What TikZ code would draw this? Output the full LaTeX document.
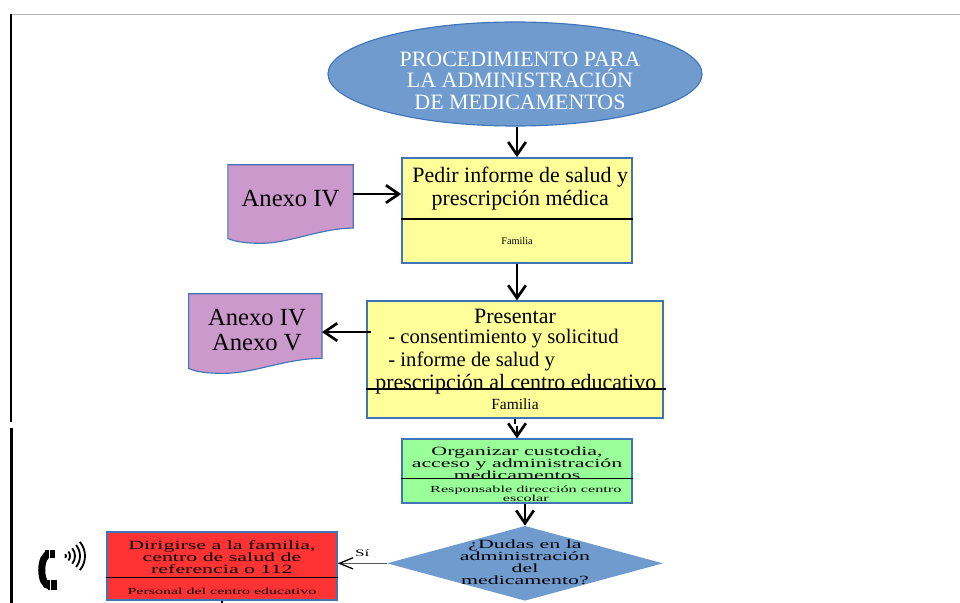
\documentclass[tikz,border=0pt]{standalone}
\usepackage{fontspec}
\setmainfont{Liberation Serif}
\newfontfamily\anchafont[FakeStretch=1.75]{Liberation Serif}
\usetikzlibrary{shapes.geometric, arrows.meta}
\definecolor{azulfill}{HTML}{6F9BCE}
\definecolor{azulline}{HTML}{3F74B8}
\definecolor{amarillo}{HTML}{FFFF99}
\definecolor{verde}{HTML}{99FF99}
\definecolor{rojo}{HTML}{FF3333}
\definecolor{malva}{HTML}{CC99CC}
\tikzstyle{titulo} = [ellipse, minimum width=9.35cm, minimum height=2.6cm, inner sep=0pt, draw=azulline, fill=azulfill, thick]
\tikzstyle{titulotext} = [align=center, inner sep=0pt, text=white, font=\fontsize{15.6}{15.4}\selectfont]
\tikzstyle{process} = [rectangle, inner sep=0pt, draw=azulline, very thick]
\tikzstyle{decision} = [diamond, aspect=3.7, inner sep=0pt, minimum width=6.9cm, minimum height=1.87cm, fill=azulfill, align=center]
\tikzstyle{docbox} = [rectangle, inner sep=0pt, draw=none]
\tikzstyle{docshape} = [draw=azulline, thick, fill=malva]
\tikzstyle{arrow} = [line width=1.4pt, -{Straight Barb[length=3.2mm, width=4.4mm, line width=1.9pt]}]
\tikzstyle{thinarrow} = [gray!70!black, line width=0.6pt, -{Straight Barb[black, length=3.4mm, width=2.8mm, line width=0.9pt]}]
\tikzstyle{divider} = [line width=1.3pt]
\tikzstyle{grande} = [align=center, inner sep=0pt, font=\fontsize{15.6}{16.2}\selectfont]
\tikzstyle{doctext} = [align=center, inner sep=0pt, font=\fontsize{17.5}{17.8}\selectfont]
\tikzstyle{ancho} = [align=center, inner sep=0pt, font=\anchafont\fontsize{8.9}{8.6}\selectfont]
\tikzstyle{pequeno} = [align=center, inner sep=0pt, font=\anchafont\fontsize{6.6}{6.8}\selectfont]

\begin{document}
\begin{tikzpicture}[x=0.025cm, y=-0.025cm]
	\useasboundingbox (0,0) rectangle (960,603);
	% marco de la pagina
	\coordinate (marcoa) at (11,14);
	\coordinate (marcob) at (11,422);
	\coordinate (marcoc) at (11.5,428);
	\coordinate (marcod) at (11.5,603);
	\coordinate (marcoe) at (960,14);
	\draw [gray!60, line width=0.7pt] (marcoa) -- (marcoe);
	\draw [line width=2.1pt] (marcoa) -- (marcob);
	\draw [line width=2pt] (marcoc) -- (marcod);

	\node (title) [titulo] at (515,74) {};
	\node (pedir) [process, fill=amarillo, minimum width=5.75cm, minimum height=2.62cm, below of=title, node distance=3.41cm, xshift=0.05cm] {};
	\node (presentar) [process, fill=amarillo, minimum width=7.4cm, minimum height=2.92cm, below of=pedir, node distance=3.73cm, xshift=-0.05cm] {};
	\node (organizar) [process, fill=verde, minimum width=5.75cm, minimum height=1.6cm, below of=presentar, node distance=2.79cm, xshift=0.05cm] {};
	\node (dudas) [decision, below of=organizar, node distance=2.3cm, xshift=0.2cm] {};
	\node (dirigirse) [process, fill=rojo, minimum width=5.75cm, minimum height=1.7cm, left of=dudas, node distance=7.575cm, yshift=-0.075cm] {};
	\node (anexouno) [docbox, minimum width=3.12cm, minimum height=1.45cm, left of=pedir, node distance=5.66cm, yshift=0.41cm] {};
	\node (anexodos) [docbox, minimum width=3.32cm, minimum height=1.9cm, left of=presentar, node distance=6.49cm, yshift=0.69cm] {};

	% hojas moradas
	\draw [docshape] (anexouno.north west) -- (anexouno.north east) -- ([yshift=-0.12cm]anexouno.south east)
		.. controls ([xshift=-0.8cm,yshift=-0.12cm]anexouno.south east) and ([xshift=-1.6cm,yshift=-0.5cm]anexouno.south east) .. ([xshift=-2.3cm,yshift=-0.5cm]anexouno.south east)
		.. controls ([xshift=0.3cm,yshift=-0.5cm]anexouno.south west) and ([xshift=0.1cm,yshift=-0.42cm]anexouno.south west) .. ([yshift=-0.38cm]anexouno.south west) -- cycle;
	\draw [docshape] (anexodos.north west) -- (anexodos.north east) -- ([yshift=0.3cm]anexodos.south east)
		.. controls ([xshift=-0.9cm,yshift=0.3cm]anexodos.south east) and ([xshift=-1.7cm,yshift=-0.075cm]anexodos.south east) .. ([xshift=-2.45cm,yshift=-0.075cm]anexodos.south east)
		.. controls ([xshift=0.3cm,yshift=-0.075cm]anexodos.south west) and ([xshift=0.1cm,yshift=0cm]anexodos.south west) .. ([yshift=0.05cm]anexodos.south west) -- cycle;
	\node (anexounotxt) [doctext] at ([yshift=-0.12cm]anexouno) {Anexo IV};
	\node (anexodostxt) [doctext] at ([xshift=0.04cm,yshift=0.04cm]anexodos) {Anexo IV\\Anexo V};

	% textos de las cajas
	\node (titulotxt) [titulotext] at ([xshift=0.125cm,yshift=-0.17cm]title) {PROCEDIMIENTO PARA\\LA ADMINISTRACIÓN\\DE MEDICAMENTOS};
	\node (pedirtxt) [grande] at ([xshift=0.08cm,yshift=-0.79cm]pedir.north) {Pedir informe de salud y\\prescripción médica};
	\node (pedirresp) [pequeno, font=\fontsize{7.3}{9}\selectfont] at ([yshift=-2.09cm]pedir.north) {Familia};
	\node (presentartit) [grande] at ([yshift=-0.4cm]presentar.north) {Presentar};
	\node (presentartxt) [grande, align=left, anchor=north west] at ([xshift=0.225cm,yshift=-0.72cm]presentar.north west) {\hspace*{0.325cm}{\fontsize{14.7}{16.2}\selectfont - consentimiento y solicitud}\\\hspace*{0.325cm}{\fontsize{14.7}{16.2}\selectfont - informe de salud y}\\prescripción al centro educativo};
	\node (presentarresp) [pequeno, font=\fontsize{11}{12}\selectfont] at ([yshift=-2.59cm]presentar.north) {Familia};
	\node (organizartxt) [ancho] at ([yshift=-0.62cm]organizar.north) {Organizar custodia,\\acceso y administración\\medicamentos};
	\node (organizarresp) [pequeno] at ([xshift=0.22cm,yshift=-1.38cm]organizar.north) {Responsable dirección centro\\escolar};
	\node (dudastxt) [ancho] at ([yshift=0.02cm]dudas) {¿Dudas en la\\administración\\del\\medicamento?};
	\node (dirigirsetxt) [ancho] at ([yshift=-0.64cm]dirigirse.north) {Dirigirse a la familia,\\centro de salud de\\referencia o 112};
	\node (dirigirseresp) [pequeno, font=\anchafont\fontsize{6.5}{7}\selectfont] at ([yshift=-1.5cm]dirigirse.north) {Personal del centro educativo};

	% divisiones
	\draw [divider] ([yshift=-1.54cm]pedir.north west) -- ([yshift=-1.54cm]pedir.north east);
	\draw [divider] ([yshift=-2.22cm]presentar.north west) -- ([xshift=0.05cm,yshift=-2.22cm]presentar.north east);
	\draw [line width=0.8pt] ([yshift=-1cm]organizar.north west) -- ([yshift=-1cm]organizar.north east);
	\draw [line width=0.8pt] ([yshift=-1.16cm]dirigirse.north west) -- ([yshift=-1.16cm]dirigirse.north east);

	% flechas
	\draw [arrow] (pedir.north |- title.south) -- (pedir.north);
	\draw [arrow] (anexouno.east) -- (pedir.west |- anexouno.east);
	\draw [arrow] (pedir.south) -- (presentar.north -| pedir.south);
	\coordinate (presentarsal) at ([xshift=0.12cm]presentar.west |- anexodos.east);
	\draw [arrow] (presentarsal) -- (anexodos.east);
	\coordinate (presentarcorte) at ([yshift=-0.13cm]presentar.south);
	\draw [line width=1.3pt] (presentar.south) -- (presentarcorte);
	\coordinate (organizarpunta) at ([yshift=0.3cm]organizar.north);
	\draw [arrow] (organizarpunta) -- (organizar.north);
	\draw [arrow] (organizar.south -| dudas.north) -- (dudas.north);
	\draw [thinarrow] (dudas.west) -- (dirigirse.east |- dudas.west) node [midway, above=1pt, text=black, font=\anchafont\fontsize{7}{8}\selectfont] {Sí};
	\coordinate (marcapie) at (dirigirse.south);
	\coordinate (marcafin) at ([yshift=-0.08cm]dirigirse.south);
	\draw [line width=1.1pt] (marcapie) -- (marcafin);

	% telefono
	\draw [line width=5pt] (50,554) .. controls (39,554) and (39,586) .. (50,586);
	\fill (45,550) rectangle (55,558);
	\fill (48,580) rectangle (57,590);
	\draw [white, line width=0.6pt] (49,550) -- (49,558);
	\draw [white, line width=0.6pt] (50,580) -- (50,590);
	\foreach \r in {3,7,12,17,22}
		\draw [line width=1.3pt] ([shift={(-40:\r)}]63,556) arc (-40:40:\r);
\end{tikzpicture}
\end{document}
